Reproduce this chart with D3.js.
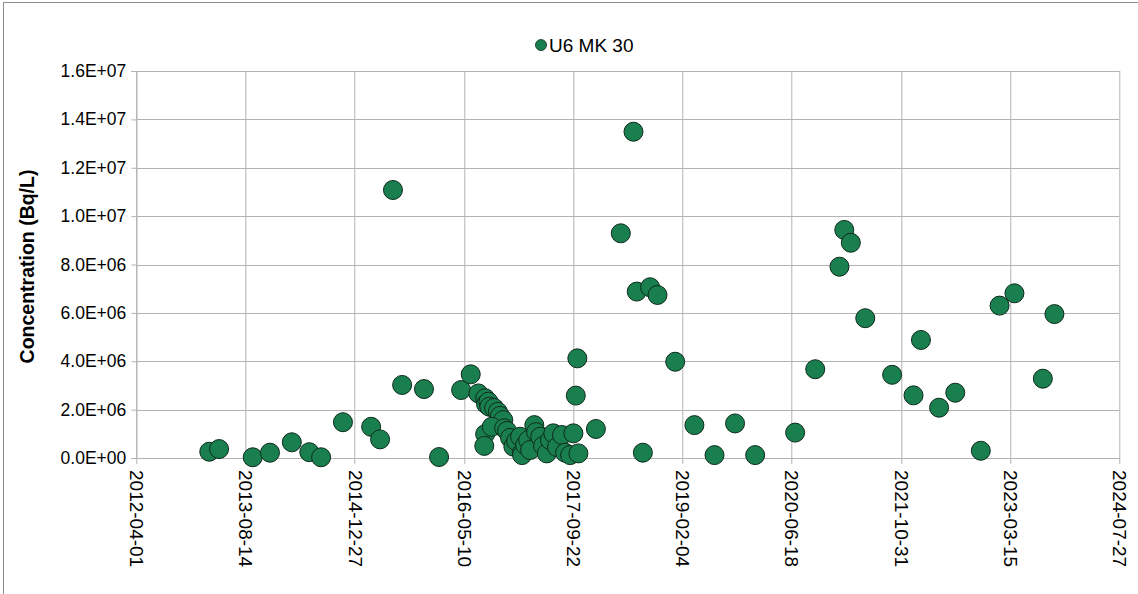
<!DOCTYPE html>
<html>
<head>
<meta charset="utf-8">
<script src="https://cdn.jsdelivr.net/npm/d3@7"></script>
<style>
	body { margin: 0; background: #fff; }
	svg { display: block; font-family: "Liberation Sans", Arial, sans-serif; }
</style>
</head>
<body>
<div id="chart"></div>
<script>
// sample dates and measured concentrations (Bq/L)
var sampleDates = [
	"2013-03-01", "2013-04-15", "2013-09-16", "2013-12-04", "2014-03-14", "2014-06-02", "2014-07-26",
	"2014-11-03", "2015-03-12", "2015-04-22", "2015-06-20", "2015-08-01", "2015-11-09", "2016-01-17",
	"2016-04-27", "2016-06-10", "2016-07-15", "2016-08-15", "2016-08-19", "2016-08-30", "2016-09-03",
	"2016-09-25", "2016-10-12", "2016-10-22", "2016-11-06", "2016-08-15", "2016-08-11", "2016-09-14",
	"2016-11-10", "2016-11-23", "2016-12-07", "2016-12-22", "2017-01-04", "2017-01-22", "2017-01-30",
	"2017-01-31", "2017-02-14", "2017-02-28", "2017-03-09", "2017-03-28", "2017-04-05", "2017-04-24",
	"2017-05-07", "2017-05-24", "2017-06-08", "2017-06-23", "2017-07-10", "2017-08-02", "2017-08-16",
	"2017-09-08", "2017-09-23", "2017-10-04", "2017-10-11", "2017-10-16", "2018-01-04", "2018-04-28",
	"2018-06-25", "2018-07-10", "2018-08-07", "2018-09-09", "2018-10-13", "2019-01-02", "2019-03-31",
	"2019-07-01", "2019-10-03", "2020-01-03", "2020-07-04", "2020-10-04", "2021-01-23", "2021-02-14",
	"2021-03-16", "2021-05-21", "2021-09-21", "2021-12-28", "2022-01-31", "2022-04-24", "2022-07-07",
	"2022-11-01", "2023-01-26", "2023-04-04", "2023-08-12", "2023-10-04"
];
var concentrations = [
	2.6e5, 3.7e5, 3.0e4, 2.2e5, 6.5e5, 2.4e5, 3.0e4,
	1.48e6, 1.29e6, 7.7e5, 1.108e7, 3.02e6, 2.85e6, 4.0e4,
	2.81e6, 3.46e6, 2.67e6, 2.47e6, 2.23e6, 2.33e6, 2.12e6,
	2.07e6, 1.91e6, 1.74e6, 1.57e6, 9.9e5, 5.0e5, 1.29e6,
	1.23e6, 1.12e6, 8.3e5, 4.7e5, 7.0e5, 8.8e5, 2.2e5,
	1.2e5, 5.4e5, 7.4e5, 3.3e5, 1.36e6, 1.07e6, 8.8e5,
	5.0e5, 1.9e5, 7.4e5, 1.02e6, 4.5e5, 9.5e5, 2.2e5,
	1.2e5, 1.02e6, 2.58e6, 4.12e6, 1.9e5, 1.2e6, 9.29e6,
	1.349e7, 6.88e6, 2.2e5, 7.06e6, 6.74e6, 3.98e6, 1.36e6,
	1.2e5, 1.43e6, 1.2e5, 1.05e6, 3.67e6, 7.91e6, 9.43e6,
	8.9e6, 5.78e6, 3.44e6, 2.59e6, 4.88e6, 2.08e6, 2.7e6,
	3.0e5, 6.3e6, 6.81e6, 3.28e6, 5.95e6
];
var xTickDates = ["2012-04-01", "2013-08-14", "2014-12-27", "2016-05-10", "2017-09-22",
	"2019-02-04", "2020-06-18", "2021-10-31", "2023-03-15", "2024-07-27"];
var yTicks = [0, 2e6, 4e6, 6e6, 8e6, 1e7, 1.2e7, 1.4e7, 1.6e7];
var seriesName = "U6 MK 30";

var W = 1138, H = 594;
var margin = { top: 71, left: 136.3, right: W - 1119.3, bottom: H - 458 };
var width = W - margin.left - margin.right,
	height = H - margin.top - margin.bottom;

var parse = d3.utcParse("%Y-%m-%d");
var points = sampleDates.map(function(d, i) {
	return { date: parse(d), value: concentrations[i] };
});

var svg = d3.select("#chart")
	.append("svg")
	.attr("width", W)
	.attr("height", H);

// outer frame (right and bottom run off the picture)
svg.append("rect")
	.attr("x", 3.5).attr("y", 2.5)
	.attr("width", W + 10).attr("height", H + 10)
	.attr("fill", "none")
	.attr("stroke", "#8c8c8c");

var g = svg.append("g")
	.attr("transform", "translate(" + margin.left + "," + margin.top + ")");

var x = d3.scaleUtc()
	.domain([parse(xTickDates[0]), parse(xTickDates[xTickDates.length - 1])])
	.range([0, width]);
var y = d3.scaleLinear()
	.domain([0, 1.6e7])
	.range([height, 0]);

// gridlines
g.append("g")
	.selectAll("line")
	.data(yTicks)
	.enter()
	.append("line")
	.attr("x1", 0).attr("x2", width)
	.attr("y1", function(d) { return Math.round(y(d)) + 0.5; })
	.attr("y2", function(d) { return Math.round(y(d)) + 0.5; })
	.attr("stroke", "#b3b3b3")
	.attr("stroke-width", 1);
g.append("g")
	.selectAll("line")
	.data(xTickDates)
	.enter()
	.append("line")
	.attr("x1", function(d) { return Math.round(x(parse(d))) + 0.5; })
	.attr("x2", function(d) { return Math.round(x(parse(d))) + 0.5; })
	.attr("y1", 0).attr("y2", height + 6)
	.attr("stroke", "#b3b3b3")
	.attr("stroke-width", 1);

// y axis
var yAxis = g.append("g")
	.call(d3.axisLeft(y).tickValues(yTicks).tickSize(5).tickPadding(5)
		.tickFormat(function(d) { return d.toExponential(1).replace("e", "E+").replace("E++", "E+").replace(/E\+(\d)$/, "E+0$1"); }));
yAxis.select(".domain").attr("stroke", "#b3b3b3");
yAxis.selectAll(".tick line").attr("stroke", "#b3b3b3");
yAxis.selectAll("text")
	.attr("fill", "#000")
	.style("font-size", "17.5px")
	.style("font-family", "'Liberation Sans', Arial, sans-serif");

// x axis labels, rotated
var xAxis = g.append("g")
	.attr("transform", "translate(0," + height + ")")
	.call(d3.axisBottom(x).tickValues(xTickDates.map(parse)).tickSize(0)
		.tickFormat(d3.utcFormat("%Y-%m-%d")));
xAxis.select(".domain").attr("stroke", "#b3b3b3");
xAxis.selectAll("text")
	.attr("fill", "#000")
	.style("font-size", "19px")
	.style("font-family", "'Liberation Sans', Arial, sans-serif")
	.attr("transform", "rotate(90)")
	.attr("x", 12)
	.attr("y", 0)
	.attr("dy", "0.35em")
	.style("text-anchor", "start");

// y label
svg.append("text")
	.attr("transform", "translate(34," + (margin.top + height / 2 + 2) + ") rotate(-90)")
	.attr("text-anchor", "middle")
	.style("font-size", "19.5px")
	.style("font-weight", "bold")
	.text("Concentration (Bq/L)");

// markers
g.append("g")
	.selectAll("circle")
	.data(points)
	.enter()
	.append("circle")
	.attr("cx", function(d) { return x(d.date); })
	.attr("cy", function(d) { return y(d.value); })
	.attr("r", 9.5)
	.attr("fill", "#1a7f4f")
	.attr("stroke", "#0d2a1c")
	.attr("stroke-width", 1);

// legend
var legend = svg.append("g").attr("transform", "translate(541,45)");
legend.append("circle")
	.attr("r", 5.5)
	.attr("fill", "#1a7f4f")
	.attr("stroke", "#0d2a1c")
	.attr("stroke-width", 0.8);
legend.append("text")
	.attr("x", 8)
	.attr("dy", "0.35em")
	.style("font-size", "19px")
	.text(seriesName);
</script>
</body>
</html>
